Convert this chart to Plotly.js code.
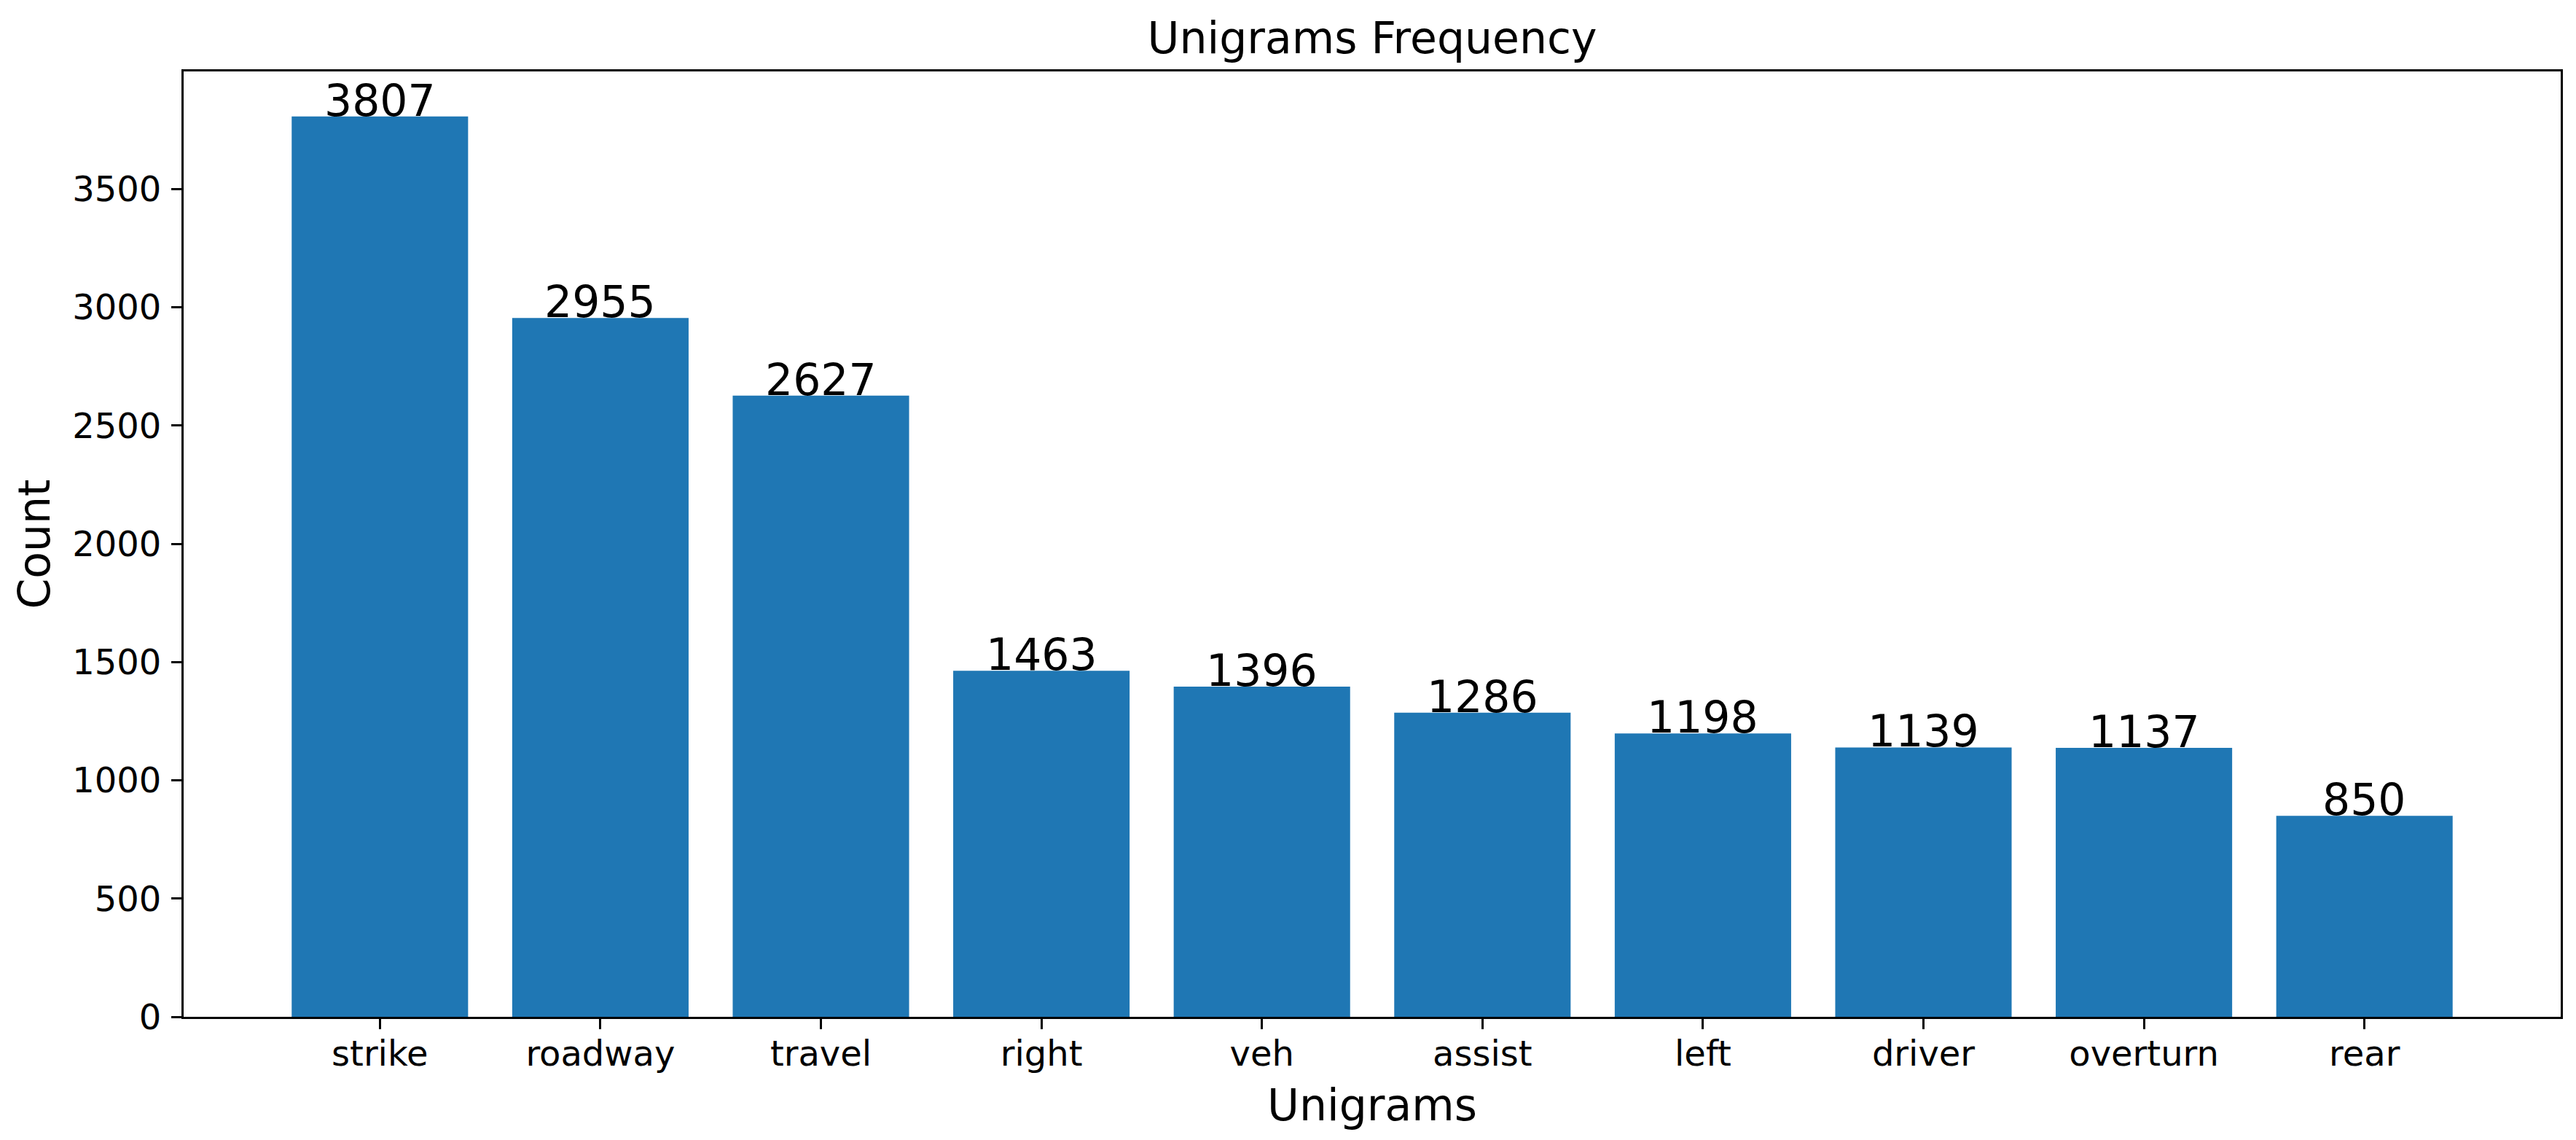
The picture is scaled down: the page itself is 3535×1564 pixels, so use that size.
<!DOCTYPE html>
<html>
<head>
<meta charset="utf-8">
<script src="https://cdn.plot.ly/plotly-3.0.1.min.js"></script>
<style>
  html, body { margin: 0; padding: 0; background: #ffffff; }
  #chart { width: 3535px; height: 1564px; }
</style>
</head>
<body>
<div id="chart"></div>
<script>
const categories = ["strike", "roadway", "travel", "right", "veh", "assist", "left", "driver", "overturn", "rear"];
const counts = [3807, 2955, 2627, 1463, 1396, 1286, 1198, 1139, 1137, 850];
const yTickValues = [0, 500, 1000, 1500, 2000, 2500, 3000, 3500];
const chartTitle = "Unigrams Frequency";
const xTitle = "Unigrams";
const yTitle = "Count";

const FONT = "DejaVu Sans, sans-serif";

const trace = {
  type: "bar",
  x: categories.map((c, i) => i),
  y: counts,
  width: 0.8,
  marker: { color: "#1f77b4", line: { width: 0 } },
  hoverinfo: "x+y"
};

const annotations = counts.map((v, i) => ({
  x: i, y: v, xref: "x", yref: "y",
  text: String(v),
  showarrow: false,
  xanchor: "center", yanchor: "bottom",
  yshift: -15,
  font: { family: FONT, size: 60, color: "#000000" }
}));

const ymax = Math.max(...counts) * 1.05;

const layout = {
  width: 3535, height: 1564,
  paper_bgcolor: "#ffffff", plot_bgcolor: "#ffffff",
  margin: { l: 252, r: 21, t: 98, b: 169, pad: 0 },
  showlegend: false,
  title: {
    text: chartTitle,
    font: { family: FONT, size: 60, color: "#000000" },
    x: 0.5, xref: "paper", xanchor: "center",
    y: 1, yref: "paper", yanchor: "bottom",
    pad: { b: 25 }
  },
  xaxis: {
    range: [-0.89, categories.length - 1 + 0.89],
    tickmode: "array",
    tickvals: categories.map((c, i) => i),
    ticktext: categories,
    showgrid: false, zeroline: false,
    showline: true, mirror: true, linecolor: "#000000", linewidth: 3,
    ticks: "outside", ticklen: 14, tickwidth: 3, tickcolor: "#000000",
    ticklabelstandoff: -8,
    tickfont: { family: FONT, size: 48, color: "#000000" },
    title: { text: xTitle, font: { family: FONT, size: 60, color: "#000000" }, standoff: 24 },
    automargin: true
  },
  yaxis: {
    range: [0, ymax],
    tickmode: "array",
    tickvals: yTickValues,
    ticktext: yTickValues.map(String),
    showgrid: false, zeroline: false,
    showline: true, mirror: true, linecolor: "#000000", linewidth: 3,
    ticks: "outside", ticklen: 14, tickwidth: 3, tickcolor: "#000000",
    ticklabelstandoff: 4,
    tickfont: { family: FONT, size: 48, color: "#000000" },
    title: { text: yTitle, font: { family: FONT, size: 60, color: "#000000" }, standoff: 12 },
    automargin: true
  },
  annotations: annotations
};

Plotly.newPlot("chart", [trace], layout, { staticPlot: true, displayModeBar: false });
</script>
</body>
</html>
